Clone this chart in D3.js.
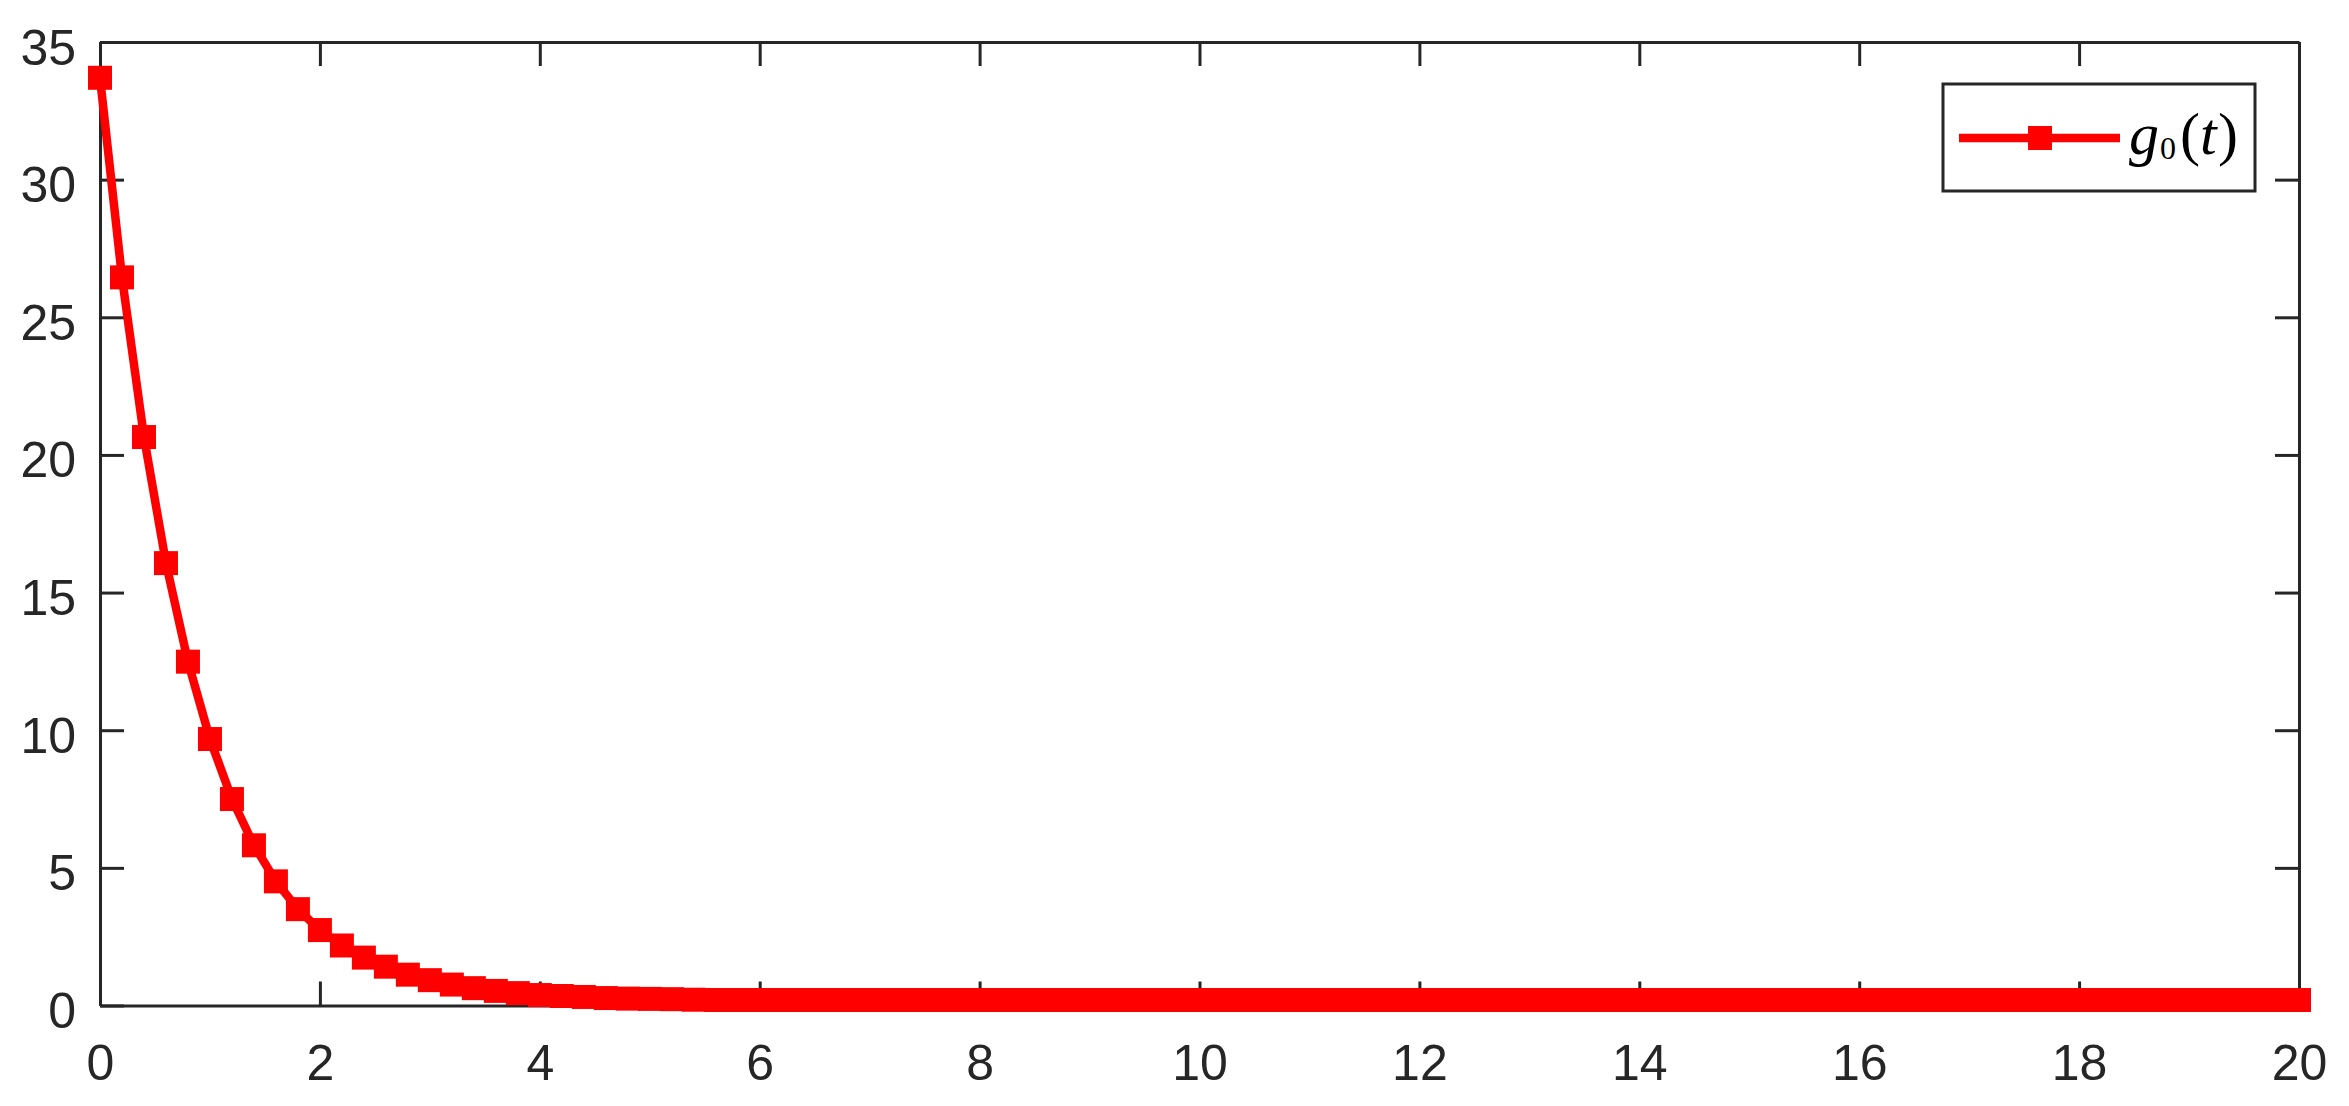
<!DOCTYPE html>
<html>
<head>
<meta charset="utf-8">
<script src="https://cdn.jsdelivr.net/npm/d3@7"></script>
<style>
  body { margin: 0; background: #fff; }
  svg { display: block; }
  .axis path, .axis line { stroke: #262626; stroke-width: 3; }
  .axis text { fill: #262626; font-family: 'Liberation Sans', Arial, sans-serif; font-size: 50px; }
</style>
</head>
<body>
<div id="chart"></div>
<script>
// time samples (t), one marker each 0.2
const tValues = [
  0, 0.2, 0.4, 0.6, 0.8, 1, 1.2, 1.4, 1.6, 1.8,
  2, 2.2, 2.4, 2.6, 2.8, 3, 3.2, 3.4, 3.6, 3.8,
  4, 4.2, 4.4, 4.6, 4.8, 5, 5.2, 5.4, 5.6, 5.8,
  6, 6.2, 6.4, 6.6, 6.8, 7, 7.2, 7.4, 7.6, 7.8,
  8, 8.2, 8.4, 8.6, 8.8, 9, 9.2, 9.4, 9.6, 9.8,
  10, 10.2, 10.4, 10.6, 10.8, 11, 11.2, 11.4, 11.6, 11.8,
  12, 12.2, 12.4, 12.6, 12.8, 13, 13.2, 13.4, 13.6, 13.8,
  14, 14.2, 14.4, 14.6, 14.8, 15, 15.2, 15.4, 15.6, 15.8,
  16, 16.2, 16.4, 16.6, 16.8, 17, 17.2, 17.4, 17.6, 17.8,
  18, 18.2, 18.4, 18.6, 18.8, 19, 19.2, 19.4, 19.6, 19.8,
  20
]
// g0(t) values
const gValues = [
  33.7, 26.45, 20.65, 16.07, 12.49, 9.68, 7.5, 5.82, 4.51, 3.5,
  2.74, 2.18, 1.74, 1.41, 1.12, 0.92, 0.76, 0.63, 0.53, 0.45,
  0.38, 0.345, 0.31, 0.27, 0.25, 0.24, 0.23, 0.21, 0.2, 0.2,
  0.2, 0.2, 0.2, 0.2, 0.2, 0.2, 0.2, 0.2, 0.2, 0.2,
  0.2, 0.2, 0.2, 0.2, 0.2, 0.2, 0.2, 0.2, 0.2, 0.2,
  0.2, 0.2, 0.2, 0.2, 0.2, 0.2, 0.2, 0.2, 0.2, 0.2,
  0.2, 0.2, 0.2, 0.2, 0.2, 0.2, 0.2, 0.2, 0.2, 0.2,
  0.2, 0.2, 0.2, 0.2, 0.2, 0.2, 0.2, 0.2, 0.2, 0.2,
  0.2, 0.2, 0.2, 0.2, 0.2, 0.2, 0.2, 0.2, 0.2, 0.2,
  0.2, 0.2, 0.2, 0.2, 0.2, 0.2, 0.2, 0.2, 0.2, 0.2,
  0.2
]
const xTicks = [0, 2, 4, 6, 8, 10, 12, 14, 16, 18, 20]
const yTicks = [0, 5, 10, 15, 20, 25, 30, 35]

const width = 2349, height = 1106
const margin = { top: 42, right: 50, bottom: 100.5, left: 100 }
const chartWidth = width - margin.left - margin.right
const chartHeight = height - margin.top - margin.bottom
const lineColor = '#ff0000'

const data = tValues.map(function(t, i){ return { t: t, g: gValues[i] } })

const svg = d3.select('#chart').append('svg')
  .attr('width', width)
  .attr('height', height)

svg.append('rect')
  .attr('width', width)
  .attr('height', height)
  .attr('fill', '#fff')

const chartArea = svg.append('g')
  .attr('transform', 'translate(' + margin.left + ',' + margin.top + ')')

const xScale = d3.scaleLinear().domain([0, 20]).range([0, chartWidth])
const yScale = d3.scaleLinear().domain([0, 35]).range([chartHeight, 0])

// box with inward ticks on all four sides
const xAxis = chartArea.append('g')
  .attr('class', 'axis')
  .attr('transform', 'translate(0,' + chartHeight + ')')
  .call(d3.axisBottom(xScale).tickValues(xTicks).tickSize(-24).tickSizeOuter(0).tickPadding(39))
xAxis.selectAll('text').attr('dy', '0.71em')

chartArea.append('g')
  .attr('class', 'axis')
  .call(d3.axisTop(xScale).tickValues(xTicks).tickSize(-24).tickSizeOuter(0).tickFormat(''))

const yAxis = chartArea.append('g')
  .attr('class', 'axis')
  .call(d3.axisLeft(yScale).tickValues(yTicks).tickSize(-24).tickSizeOuter(0).tickPadding(24))
yAxis.selectAll('text').attr('dy', '0.44em')

chartArea.append('g')
  .attr('class', 'axis')
  .attr('transform', 'translate(' + chartWidth + ',0)')
  .call(d3.axisRight(yScale).tickValues(yTicks).tickSize(-24).tickSizeOuter(0).tickFormat(''))

chartArea.selectAll('.axis path').attr('fill', 'none')

// series
const line = d3.line()
  .x(function(d){ return xScale(d.t) })
  .y(function(d){ return yScale(d.g) })

chartArea.append('path')
  .datum(data)
  .attr('d', line)
  .attr('fill', 'none')
  .attr('stroke', lineColor)
  .attr('stroke-width', 8.5)
  .attr('stroke-linejoin', 'round')

const markerSize = 24
chartArea.selectAll('rect.marker')
  .data(data)
  .enter()
  .append('rect')
  .attr('class', 'marker')
  .attr('x', function(d){ return xScale(d.t) - markerSize / 2 })
  .attr('y', function(d){ return yScale(d.g) - markerSize / 2 })
  .attr('width', markerSize)
  .attr('height', markerSize)
  .attr('fill', lineColor)

// legend
const legend = svg.append('g').attr('transform', 'translate(1943,84)')
legend.append('rect')
  .attr('width', 312)
  .attr('height', 107)
  .attr('fill', '#fff')
  .attr('stroke', '#262626')
  .attr('stroke-width', 3)
legend.append('line')
  .attr('x1', 16).attr('x2', 177)
  .attr('y1', 54).attr('y2', 54)
  .attr('stroke', lineColor)
  .attr('stroke-width', 8.5)
legend.append('rect')
  .attr('x', 97 - markerSize / 2)
  .attr('y', 54 - markerSize / 2)
  .attr('width', markerSize)
  .attr('height', markerSize)
  .attr('fill', lineColor)

const label = legend.append('text')
  .attr('y', 70)
  .style('font-family', "'Liberation Serif', 'DejaVu Serif', serif")
  .style('font-size', '60px')
  .style('fill', '#000')
label.append('tspan').attr('x', 186).style('font-style', 'italic').text('g')
label.append('tspan').attr('x', 217).attr('y', 75).style('font-size', '32px').text('0')
label.append('tspan').attr('x', 237).attr('y', 70).text('(')
label.append('tspan').attr('x', 257).style('font-style', 'italic').text('t')
label.append('tspan').attr('x', 275).text(')')
</script>
</body>
</html>
